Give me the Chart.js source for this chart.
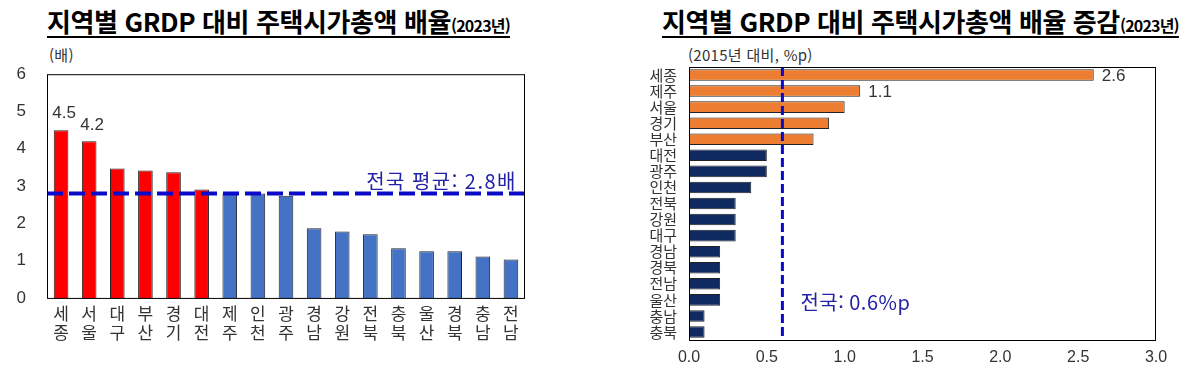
<!DOCTYPE html>
<html lang="ko">
<head>
  <meta charset="UTF-8" />
  <title>지역별 GRDP 대비 주택시가총액 배율</title>
  <script src="https://cdn.jsdelivr.net/npm/chart.js"></script>
  <style>
    body {
      margin: 0;
      width: 1200px;
      height: 369px;
      position: relative;
      background: #fff;
      font-family: 'Noto Sans CJK KR', 'Noto Sans', sans-serif;
      overflow: hidden;
    }
    .title {
      position: absolute;
      top: 4px;
      font-weight: bold;
      font-size: 26px;
      line-height: 34px;
      color: #000;
      text-decoration: underline;
      text-decoration-thickness: 2px;
      text-underline-offset: 4px;
      white-space: nowrap;
      letter-spacing: -0.4px;
    }
    .title small {
      font-size: 16px;
      letter-spacing: -0.8px;
    }
    .unit {
      position: absolute;
      top: 45px;
      font-size: 15px;
      line-height: 20px;
      color: #333;
      white-space: nowrap;
      letter-spacing: 0.3px;
    }
    .box {
      position: absolute;
    }
  </style>
</head>
<body>
  <div class="title" style="left:47px">지역별 GRDP 대비 주택시가총액 배율<small>(2023년)</small></div>
  <div class="title" style="left:662px">지역별 GRDP 대비 주택시가총액 배율 증감<small>(2023년)</small></div>
  <div class="unit" style="left:49px">(배)</div>
  <div class="unit" style="left:688px">(2015년 대비, %p)</div>

  <div class="box" style="left:0;top:43px;width:545px;height:305px">
    <canvas id="leftChart"></canvas>
  </div>
  <div class="box" style="left:600px;top:46px;width:600px;height:323px">
    <canvas id="rightChart"></canvas>
  </div>

  <script>
    // 왼쪽: 지역별 GRDP 대비 주택시가총액 배율 (2023년)
    const leftRegions = ["세종", "서울", "대구", "부산", "경기", "대전", "제주", "인천", "광주",
                         "경남", "강원", "전북", "충북", "울산", "경북", "충남", "전남"];
    const leftValues = [4.5, 4.2, 3.47, 3.42, 3.37, 2.91, 2.8, 2.8, 2.74,
                        1.87, 1.78, 1.71, 1.33, 1.25, 1.25, 1.11, 1.03];
    const leftAboveAvg = 6; // 앞의 6개 지역은 빨간색
    const leftAvg = 2.8;
    const leftLabelIdx = [0, 1];

    // 오른쪽: 2015년 대비 증감 (%p)
    const rightRegions = ["세종", "제주", "서울", "경기", "부산", "대전", "광주", "인천", "전북",
                          "강원", "대구", "경남", "경북", "전남", "울산", "충남", "충북"];
    const rightValues = [2.6, 1.1, 1.0, 0.9, 0.8, 0.5, 0.5, 0.4, 0.3,
                         0.3, 0.3, 0.2, 0.2, 0.2, 0.2, 0.1, 0.1];
    const rightAboveAvg = 5;
    const rightAvg = 0.6;
    const rightLabelIdx = [0, 1];

    const numFont = "'Liberation Sans', 'Noto Sans CJK KR', sans-serif";
    const lineBlue = "#0a0ac8";
    const textBlue = "#2323a8";

    const frame = {
      id: "frame",
      afterDraw(chart) {
        const { ctx, chartArea: a } = chart;
        ctx.save();
        ctx.strokeStyle = "#000";
        ctx.lineWidth = 1;
        ctx.strokeRect(a.left + 0.5, a.top + 0.5, a.right - a.left - 1, a.bottom - a.top);
        ctx.restore();
      }
    };

    const leftExtras = {
      id: "leftExtras",
      afterDatasetsDraw(chart) {
        const { ctx, chartArea: a, scales } = chart;
        const y = scales.y.getPixelForValue(leftAvg);
        ctx.save();
        ctx.strokeStyle = lineBlue;
        ctx.lineWidth = 4;
        ctx.setLineDash([16, 6]);
        ctx.beginPath();
        ctx.moveTo(a.left, y);
        ctx.lineTo(a.right, y);
        ctx.stroke();
        ctx.setLineDash([]);

        ctx.fillStyle = textBlue;
        ctx.font = "20px 'Noto Sans CJK KR', sans-serif";
        ctx.letterSpacing = "1.5px";
        ctx.textAlign = "right";
        ctx.textBaseline = "bottom";
        ctx.fillText("전국 평균: " + leftAvg + "배", a.right - 8, y - 2);
        ctx.letterSpacing = "0px";

        ctx.fillStyle = "#333";
        ctx.font = "17px " + numFont;
        ctx.textAlign = "center";
        const meta = chart.getDatasetMeta(0);
        leftLabelIdx.forEach(i => {
          const bar = meta.data[i];
          ctx.fillText(leftValues[i].toFixed(1), bar.x + 3, bar.y - 8);
        });
        ctx.restore();
      }
    };

    const rightExtras = {
      id: "rightExtras",
      afterDatasetsDraw(chart) {
        const { ctx, chartArea: a, scales } = chart;
        const x = scales.x.getPixelForValue(rightAvg);
        ctx.save();
        ctx.strokeStyle = lineBlue;
        ctx.lineWidth = 3;
        ctx.setLineDash([9, 4]);
        ctx.beginPath();
        ctx.moveTo(x, a.top);
        ctx.lineTo(x, a.bottom);
        ctx.stroke();
        ctx.setLineDash([]);

        ctx.fillStyle = textBlue;
        ctx.font = "20px 'Noto Sans CJK KR', sans-serif";
        ctx.letterSpacing = "0.5px";
        ctx.textAlign = "left";
        ctx.textBaseline = "middle";
        ctx.fillText("전국: " + rightAvg + "%p", x + 18, a.bottom - 38);
        ctx.letterSpacing = "0px";

        ctx.fillStyle = "#333";
        ctx.font = "17px " + numFont;
        const meta = chart.getDatasetMeta(0);
        rightLabelIdx.forEach(i => {
          const bar = meta.data[i];
          ctx.fillText(rightValues[i].toFixed(1), bar.x + 8, bar.y + 1);
        });
        ctx.restore();
      }
    };

    new Chart(document.getElementById("leftChart"), {
      type: "bar",
      data: {
        labels: leftRegions.map(r => r.split("")),
        datasets: [{
          data: leftValues,
          backgroundColor: leftValues.map((v, i) => i < leftAboveAvg ? "#ff0000" : "#4472c4"),
          borderColor: "#222",
          borderWidth: 1,
          barPercentage: 0.52,
          categoryPercentage: 1.0
        }]
      },
      options: {
        responsive: true,
        maintainAspectRatio: false,
        animation: false,
        layout: { padding: { top: 13, right: 20 } },
        plugins: { legend: { display: false }, tooltip: { enabled: false } },
        scales: {
          x: {
            grid: { display: false, drawTicks: false },
            border: { display: false },
            ticks: {
              color: "#333",
              padding: 6,
              font: { size: 17, family: "'Noto Sans CJK KR', sans-serif", lineHeight: 1.12 },
              maxRotation: 0,
              autoSkip: false
            }
          },
          y: {
            min: 0,
            max: 6,
            afterFit(s) { s.width = 47; },
            grid: { display: false, drawTicks: false },
            border: { display: false },
            ticks: {
              stepSize: 1,
              color: "#333",
              padding: 21,
              font: { size: 17, family: numFont }
            }
          }
        }
      },
      plugins: [frame, leftExtras]
    });

    new Chart(document.getElementById("rightChart"), {
      type: "bar",
      data: {
        labels: rightRegions,
        datasets: [{
          data: rightValues,
          backgroundColor: rightValues.map((v, i) => i < rightAboveAvg ? "#ed7d31" : "#0f2a60"),
          borderColor: "#222",
          borderWidth: 1,
          barPercentage: 0.72,
          categoryPercentage: 1.0
        }]
      },
      options: {
        indexAxis: "y",
        responsive: true,
        maintainAspectRatio: false,
        animation: false,
        layout: { padding: { top: 8, right: 44 } },
        plugins: { legend: { display: false }, tooltip: { enabled: false } },
        scales: {
          x: {
            min: 0,
            max: 3,
            afterFit(s) { s.height = 29; },
            grid: { display: false, drawTicks: false },
            border: { display: false },
            ticks: {
              stepSize: 0.5,
              color: "#333",
              padding: 8,
              font: { size: 16, family: numFont },
              callback: v => Number(v).toFixed(1)
            }
          },
          y: {
            afterFit(s) { s.width = 89; },
            grid: { display: false, drawTicks: false },
            border: { display: false },
            ticks: {
              color: "#333",
              padding: 12,
              autoSkip: false,
              font: { size: 15, family: "'Noto Sans CJK KR', sans-serif" }
            }
          }
        }
      },
      plugins: [frame, rightExtras]
    });
  </script>
</body>
</html>
